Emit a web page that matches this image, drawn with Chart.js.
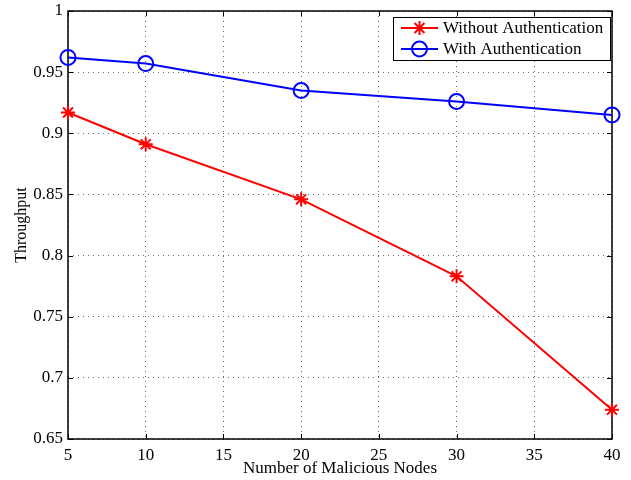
<!DOCTYPE html>
<html><head><meta charset="utf-8">
<script src="https://cdn.jsdelivr.net/npm/chart.js@4"></script>
<style>html,body{margin:0;padding:0;background:#fff}#w{width:631px;height:480px}</style>
</head><body><div id="w"><canvas id="c" width="631" height="480"></canvas></div>
<script>
const nodes = [5, 10, 20, 30, 40];
const withoutAuth = [0.917, 0.891, 0.846, 0.783, 0.674];
const withAuth = [0.962, 0.957, 0.935, 0.926, 0.915];
const xTicks = [5, 10, 15, 20, 25, 30, 35, 40];
const yTicks = [0.65, 0.7, 0.75, 0.8, 0.85, 0.9, 0.95, 1];
const seriesNames = ['Without Authentication', 'With Authentication'];
const FONT = '"Liberation Serif", "Times New Roman", serif';

const boxPlugin = {
  id: 'box',
  beforeDatasetsDraw(chart) {
    const ctx = chart.ctx, a = chart.chartArea;
    const xs = chart.scales.x, ys = chart.scales.y;
    ctx.save();
    ctx.strokeStyle = '#000'; ctx.lineWidth = 1;
    ctx.beginPath();
    xTicks.forEach(v => {
      const px = Math.round(xs.getPixelForValue(v)) + 0.5;
      ctx.moveTo(px, a.bottom); ctx.lineTo(px, a.bottom - 5);
      ctx.moveTo(px, a.top); ctx.lineTo(px, a.top + 5);
    });
    yTicks.forEach(v => {
      const py = Math.round(ys.getPixelForValue(v)) + 0.5;
      ctx.moveTo(a.left, py); ctx.lineTo(a.left + 5, py);
      ctx.moveTo(a.right, py); ctx.lineTo(a.right - 5, py);
    });
    ctx.stroke();
    ctx.lineWidth = 1.5;
    ctx.strokeRect(a.left, a.top, a.right - a.left, a.bottom - a.top);
    ctx.restore();
  },
  afterDraw(chart) {
    const ctx = chart.ctx;
    ctx.save();
    const lx = 393, ly = 17, lw = 217, lh = 43;
    ctx.fillStyle = '#fff';
    ctx.fillRect(lx, ly, lw, lh);
    ctx.lineWidth = 1;
    ctx.strokeStyle = '#000';
    ctx.strokeRect(lx + 0.5, ly + 0.5, lw, lh);
    ctx.font = '17px ' + FONT;
    ctx.textBaseline = 'middle';
    const ds = chart.data.datasets;
    [0, 1].forEach(i => {
      const y = ly + 11 + i * 21;
      ctx.strokeStyle = ds[i].borderColor; ctx.lineWidth = 2;
      ctx.beginPath(); ctx.moveTo(lx + 8, y); ctx.lineTo(lx + 45, y); ctx.stroke();
      ctx.fillStyle = ds[i].backgroundColor;
      Chart.helpers.drawPoint(ctx, {pointStyle: ds[i].pointStyle, radius: ds[i].pointRadius, borderWidth: 2, rotation: 0}, lx + 26.5, y);
      ctx.fillStyle = '#000';
      ctx.fillText(seriesNames[i], lx + 50, y + 1);
    });
    ctx.restore();
  }
};

new Chart(document.getElementById('c'), {
  type: 'line',
  data: {
    datasets: [
      { label: seriesNames[0], data: nodes.map((x, i) => ({x, y: withoutAuth[i]})),
        borderColor: '#ff0000', backgroundColor: '#ff0000', borderWidth: 2, clip: false,
        pointStyle: 'star', pointRadius: 7, pointBorderWidth: 2, tension: 0 },
      { label: seriesNames[1], data: nodes.map((x, i) => ({x, y: withAuth[i]})),
        borderColor: '#0000ff', backgroundColor: 'rgba(0,0,0,0)', borderWidth: 2, clip: false,
        pointStyle: 'circle', pointRadius: 7.5, pointBorderWidth: 2, tension: 0 }
    ]
  },
  options: {
    responsive: false, animation: false,
    layout: { padding: { left: 0, right: 19, top: 11, bottom: 0 } },
    plugins: { legend: { display: false }, tooltip: { enabled: false } },
    scales: {
      x: {
        type: 'linear', min: 5, max: 40,
        afterBuildTicks: s => { s.ticks = xTicks.map(v => ({value: v})); },
        afterFit: s => { s.height = 41; s.paddingLeft = 0; s.paddingRight = 0; },
        grid: { color: '#666', drawTicks: false, lineWidth: 1 },
        border: { display: false, dash: [1, 4] },
        ticks: { color: '#000', font: { family: FONT, size: 17 }, padding: 6, maxRotation: 0 },
        title: { display: true, text: 'Number of Malicious Nodes', color: '#000', font: { family: FONT, size: 17 }, padding: { top: 0, bottom: 1 } }
      },
      y: {
        min: 0.65, max: 1,
        afterBuildTicks: s => { s.ticks = yTicks.map(v => ({value: v})); },
        afterFit: s => { s.width = 68; s.paddingTop = 0; s.paddingBottom = 0; },
        grid: { color: '#666', drawTicks: false, lineWidth: 1 },
        border: { display: false, dash: [1, 4] },
        ticks: { color: '#000', font: { family: FONT, size: 17 }, padding: 5,
          callback: v => String(Math.round(v * 100) / 100) },
        title: { display: true, text: 'Throughput', color: '#000', font: { family: FONT, size: 16 }, padding: { top: 12, bottom: 0 } }
      }
    }
  },
  plugins: [boxPlugin]
});
</script></body></html>
